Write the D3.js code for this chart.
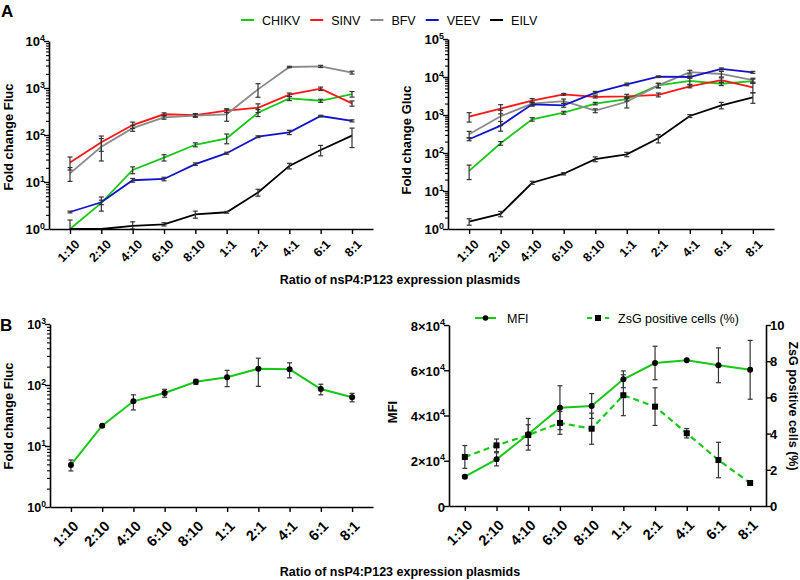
<!DOCTYPE html>
<html><head><meta charset="utf-8">
<script src="https://cdn.jsdelivr.net/npm/d3@7"></script>
<style>
body{margin:0;background:#fff;}
svg text{font-family:Arial,"Liberation Sans",Helvetica,sans-serif;}
</style></head><body>
<script>
// ---------- DATA ----------
const categories = ["1:10","2:10","4:10","6:10","8:10","1:1","2:1","4:1","6:1","8:1"];
const seriesNames = ["CHIKV","SINV","BFV","VEEV","EILV"];
const seriesColors = ["#17c817","#ff1515","#8a8a8a","#1212cc","#000000"];

// Panel A left: Fold change Fluc
const flucCHIKV = [1.0, 3.6, 18, 33, 62, 85, 297, 600, 535, 740];
const flucSINV  = [26, 70, 163, 276, 266, 330, 380, 720, 965, 470];
const flucBFV   = [15.3, 56, 140, 237, 258, 276, 935, 2800, 2880, 2130];
const flucVEEV  = [2.3, 3.7, 10.9, 11.6, 24, 41, 92, 114, 253, 200];
const flucEILV  = [1.0, 1.0, 1.17, 1.26, 2.05, 2.27, 6.0, 22, 48, 97];
const flucErrCHIKV = [0.55, 1.2, 3, 5, 6, 20, 50, 60, 40, 100];
const flucErrSINV  = [8, 25, 25, 20, 20, 30, 80, 60, 80, 60];
const flucErrBFV   = [5, 28, 20, 20, 20, 80, 300, 100, 150, 150];
const flucErrVEEV  = [0.1, 0.4, 1, 1, 1.5, 2, 4, 12, 10, 10];
const flucErrEILV  = [0, 0, 0.25, 0.1, 0.35, 0.1, 1, 3, 12, 43];

// Panel A right: Fold change Gluc
const glucCHIKV = [34, 180, 770, 1150, 2000, 2630, 6000, 7900, 6650, 7800];
const glucSINV  = [900, 1470, 2400, 3500, 3000, 3100, 3400, 5700, 8300, 5350];
const glucBFV   = [310, 925, 1990, 2330, 1300, 2230, 6000, 13500, 12000, 8300];
const glucVEEV  = [230, 525, 1910, 1800, 3880, 6400, 10200, 10000, 16300, 13300];
const glucEILV  = [1.56, 2.5, 16.5, 28.5, 69, 92, 244, 940, 1800, 2930];
const glucErrCHIKV = [14, 20, 80, 100, 150, 300, 800, 1500, 700, 1000];
const glucErrSINV  = [250, 400, 300, 200, 200, 400, 400, 500, 1200, 1500];
const glucErrBFV   = [60, 400, 200, 300, 150, 700, 800, 1500, 2000, 1000];
const glucErrVEEV  = [20, 150, 200, 200, 300, 500, 500, 700, 1000, 800];
const glucErrEILV  = [0.3, 0.4, 1.5, 2, 10, 12, 60, 80, 350, 900];

// Panel B left: Fold change Fluc (single series)
const bFluc    = [4.9, 21.5, 54, 74, 113, 134, 185, 181, 86, 63];
const bFlucErr = [1, 1, 15, 11, 11, 40, 90, 50, 17, 10];

// Panel B right: MFI and ZsG positive cells (%)
const mfi     = [12950, 20640, 31700, 43450, 44200, 56000, 63200, 64400, 62200, 60200];
const mfiErr  = [600, 2900, 7000, 9700, 5500, 3700, 7400, 0, 7700, 13000];
const zsg     = [2.71, 3.35, 3.92, 4.59, 4.27, 6.12, 5.49, 4.02, 2.54, 1.27];
const zsgErr  = [0.63, 0.35, 0.57, 0.63, 0.86, 1.13, 1.04, 0.26, 0.98, 0];

const mfiTicks = [0, 20000, 40000, 60000, 80000];
const zsgTicks = [0, 2, 4, 6, 8, 10];

const flucSeries = [flucCHIKV, flucSINV, flucBFV, flucVEEV, flucEILV];
const flucErrs   = [flucErrCHIKV, flucErrSINV, flucErrBFV, flucErrVEEV, flucErrEILV];
const glucSeries = [glucCHIKV, glucSINV, glucBFV, glucVEEV, glucEILV];
const glucErrs   = [glucErrCHIKV, glucErrSINV, glucErrBFV, glucErrVEEV, glucErrEILV];

// ---------- DRAWING ----------
const svg = d3.select("body").append("svg").attr("width", 800).attr("height", 580);
const GREEN = "#17c817";
const ERR = "#333";

function styleAxis(g) {
  g.attr("font-family", null).attr("font-size", null);
  g.select(".domain").attr("stroke", "#000").attr("stroke-width", 1.6);
  g.selectAll(".tick line").attr("stroke", "#000").attr("stroke-width", 1.4);
}

function xAxis(x, yPos, fs, off) {
  const g = svg.append("g").attr("transform", `translate(0,${yPos})`)
    .call(d3.axisBottom(x).tickSize(5).tickSizeOuter(0));
  styleAxis(g);
  g.selectAll(".tick text").attr("x", null).attr("y", null).attr("dy", null)
    .attr("text-anchor", "end").attr("font-weight", "bold").attr("font-size", fs).attr("fill", "#000")
    .attr("transform", `translate(${off[0]},${off[1]}) rotate(-45)`);
}

function logYAxis(y, xPos, maxExp, fs) {
  const majors = d3.range(0, maxExp + 1).map(e => Math.pow(10, e));
  const minors = [];
  for (let e = 0; e < maxExp; e++) for (let m = 2; m <= 9; m++) minors.push(m * Math.pow(10, e));
  const gm = svg.append("g").attr("transform", `translate(${xPos},0)`)
    .call(d3.axisLeft(y).tickValues(minors).tickSize(3).tickFormat(""));
  gm.select(".domain").remove();
  gm.selectAll(".tick line").attr("stroke", "#000").attr("stroke-width", 1.1);
  const g = svg.append("g").attr("transform", `translate(${xPos},0)`)
    .call(d3.axisLeft(y).tickValues(majors).tickSize(5).tickSizeOuter(0).tickFormat(""));
  styleAxis(g);
  majors.forEach((v, i) => {
    const t = svg.append("text").attr("x", xPos - 4).attr("y", y(v) + fs * 0.42)
      .attr("text-anchor", "end").attr("font-weight", "bold").attr("font-size", fs);
    t.append("tspan").text("10");
    t.append("tspan").attr("font-size", fs * 0.68).attr("dy", -fs * 0.45).text(i);
  });
}

function errorBars(x, y, vals, errs, minV) {
  const g = svg.append("g").attr("stroke", ERR).attr("stroke-width", 1.2);
  vals.forEach((v, i) => {
    const e = errs[i];
    if (!e) return;
    const lo = Math.max(v - e, minV), hi = v + e;
    const cx = x(categories[i]);
    g.append("line").attr("x1", cx).attr("x2", cx).attr("y1", y(lo)).attr("y2", y(hi));
    [lo, hi].forEach(b => {
      if (b === v) return;
      g.append("line").attr("x1", cx - 2.5).attr("x2", cx + 2.5).attr("y1", y(b)).attr("y2", y(b));
    });
  });
}

function drawLine(x, y, vals, color, width, dash) {
  const line = d3.line().x((d, i) => x(categories[i])).y(d => y(d));
  const p = svg.append("path").datum(vals).attr("d", line).attr("fill", "none")
    .attr("stroke", color).attr("stroke-width", width);
  if (dash) p.attr("stroke-dasharray", dash);
}

function yTitle(txt, x, y, rot, fs) {
  svg.append("text").attr("transform", `translate(${x},${y}) rotate(${rot})`)
    .attr("text-anchor", "middle").attr("font-weight", "bold").attr("font-size", fs).text(txt);
}

// Panel labels
svg.append("text").attr("x", 1).attr("y", 17).attr("font-weight", "bold").attr("font-size", 17).text("A");
svg.append("text").attr("x", 0).attr("y", 331).attr("font-weight", "bold").attr("font-size", 17).text("B");

// Legend A
{
  let cx = 241;
  seriesNames.forEach((n, i) => {
    svg.append("line").attr("x1", cx).attr("x2", cx + 13).attr("y1", 20).attr("y2", 20)
      .attr("stroke", seriesColors[i]).attr("stroke-width", 2);
    const t = svg.append("text").attr("x", cx + 21).attr("y", 24.5).attr("font-size", 12.5).text(n);
    cx += 21 + t.node().getComputedTextLength() + 10;
  });
}

// ---- Panel A left ----
{
  const x = d3.scalePoint().domain(categories).range([49, 373]).padding(0.67);
  const y = d3.scaleLog().domain([1, 1e4]).range([229, 41]);
  flucSeries.forEach((s, i) => drawLine(x, y, s, seriesColors[i], 1.8));
  flucSeries.forEach((s, i) => errorBars(x, y, s, flucErrs[i], 1));
  xAxis(x, 229, 12.5, [10, 16]);
  logYAxis(y, 49, 4, 13);
  yTitle("Fold change Fluc", 13, 137, -90, 13);
}

// ---- Panel A right ----
{
  const x = d3.scalePoint().domain(categories).range([448, 774]).padding(0.67);
  const y = d3.scaleLog().domain([1, 1e5]).range([229, 39]);
  glucSeries.forEach((s, i) => drawLine(x, y, s, seriesColors[i], 1.8));
  glucSeries.forEach((s, i) => errorBars(x, y, s, glucErrs[i], 1));
  xAxis(x, 229, 12.5, [10, 16]);
  logYAxis(y, 448, 5, 13);
  yTitle("Fold change Gluc", 411, 140, -90, 13);
}

svg.append("text").attr("x", 400).attr("y", 284).attr("text-anchor", "middle")
  .attr("font-weight", "bold").attr("font-size", 12.5).text("Ratio of nsP4:P123 expression plasmids");

// ---- Panel B left ----
{
  const x = d3.scalePoint().domain(categories).range([50, 373]).padding(0.67);
  const y = d3.scaleLog().domain([1, 1e3]).range([507, 324]);
  drawLine(x, y, bFluc, GREEN, 2);
  errorBars(x, y, bFluc, bFlucErr, 1);
  svg.append("g").selectAll("circle").data(bFluc).join("circle")
    .attr("cx", (d, i) => x(categories[i])).attr("cy", d => y(d)).attr("r", 3).attr("fill", "#000");
  xAxis(x, 507, 14.5, [8, 20]);
  logYAxis(y, 50, 3, 12.5);
  yTitle("Fold change Fluc", 13, 416, -90, 13);
}

// ---- Panel B right ----
{
  const x = d3.scalePoint().domain(categories).range([449, 766]).padding(0.5);
  const y = d3.scaleLinear().domain([0, 80000]).range([506, 325]);
  const y2 = d3.scaleLinear().domain([0, 10]).range([506, 325]);
  drawLine(x, y, mfi, GREEN, 2);
  drawLine(x, y2, zsg, GREEN, 2.2, "6,4");
  errorBars(x, y, mfi, mfiErr, 0);
  errorBars(x, y2, zsg, zsgErr, 0);
  svg.append("g").selectAll("circle").data(mfi).join("circle")
    .attr("cx", (d, i) => x(categories[i])).attr("cy", d => y(d)).attr("r", 3).attr("fill", "#000");
  svg.append("g").selectAll("rect").data(zsg).join("rect")
    .attr("x", (d, i) => x(categories[i]) - 3).attr("y", d => y2(d) - 3)
    .attr("width", 6).attr("height", 6).attr("fill", "#000");
  xAxis(x, 506, 14.5, [8, 20]);
  // left axis
  const gl = svg.append("g").attr("transform", "translate(449,0)")
    .call(d3.axisLeft(y).tickValues(mfiTicks).tickSize(5).tickSizeOuter(0).tickFormat(""));
  styleAxis(gl);
  mfiTicks.forEach(v => {
    const t = svg.append("text").attr("x", 445).attr("y", y(v) + 5.5).attr("text-anchor", "end")
      .attr("font-weight", "bold").attr("font-size", 13);
    if (v === 0) { t.text("0"); }
    else {
      t.append("tspan").text((v / 10000) + "×10");
      t.append("tspan").attr("font-size", 9).attr("dy", -6).text("4");
    }
  });
  // right axis
  const gr = svg.append("g").attr("transform", "translate(766,0)")
    .call(d3.axisRight(y2).tickValues(zsgTicks).tickSize(5).tickSizeOuter(0).tickFormat(""));
  styleAxis(gr);
  zsgTicks.forEach(v => {
    svg.append("text").attr("x", 770).attr("y", y2(v) + 5).attr("text-anchor", "start")
      .attr("font-weight", "bold").attr("font-size", 13).text(v);
  });
  yTitle("MFI", 397, 412, -90, 13);
  yTitle("ZsG positive cells (%)", 789, 406, 90, 12.5);
  // legend
  svg.append("line").attr("x1", 475).attr("x2", 496).attr("y1", 318).attr("y2", 318)
    .attr("stroke", GREEN).attr("stroke-width", 2);
  svg.append("circle").attr("cx", 485.5).attr("cy", 318).attr("r", 2.8).attr("fill", "#000");
  svg.append("text").attr("x", 507).attr("y", 322.5).attr("font-size", 12.5).text("MFI");
  svg.append("line").attr("x1", 587).attr("x2", 609).attr("y1", 318).attr("y2", 318)
    .attr("stroke", GREEN).attr("stroke-width", 2.2).attr("stroke-dasharray", "5,4");
  svg.append("rect").attr("x", 595).attr("y", 315).attr("width", 6).attr("height", 6).attr("fill", "#000");
  svg.append("text").attr("x", 618).attr("y", 322.5).attr("font-size", 12.5).text("ZsG positive cells (%)");
}

svg.append("text").attr("x", 400).attr("y", 576).attr("text-anchor", "middle")
  .attr("font-weight", "bold").attr("font-size", 12.5).text("Ratio of nsP4:P123 expression plasmids");
</script>
</body></html>
